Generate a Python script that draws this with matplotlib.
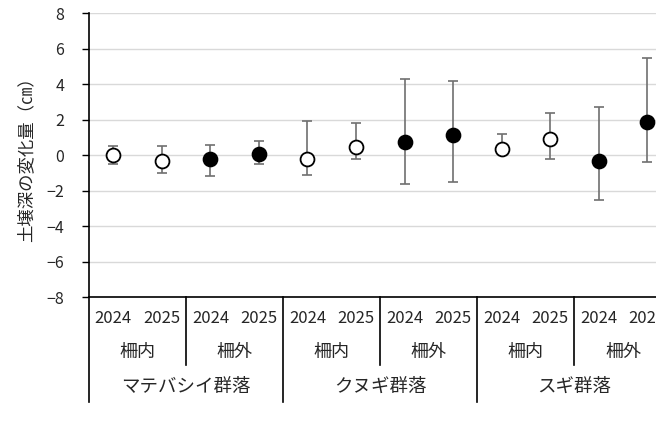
import matplotlib
matplotlib.use("Agg")
import matplotlib.pyplot as plt

plt.rcParams['font.family'] = ['Noto Sans CJK JP', 'DejaVu Sans']

# 土壌深の変化量（平均と範囲）
years = ['2024', '2025'] * 6
fences = ['柵内', '柵外'] * 3
stands = ['マテバシイ群落', 'クヌギ群落', 'スギ群落']
means = [0.0, -0.34, -0.23, 0.08, -0.23, 0.47, 0.77, 1.13, 0.36, 0.94, -0.30, 1.88]
upper = [0.5, 0.5, 0.6, 0.8, 1.9, 1.8, 4.3, 4.2, 1.2, 2.4, 2.7, 5.5]
lower = [-0.5, -1.0, -1.2, -0.5, -1.1, -0.2, -1.6, -1.5, 0.05, -0.2, -2.5, -0.4]
filled = [False, False, True, True] * 3

fig = plt.figure(figsize=(6.56, 4.24), dpi=100)
# 右端は図の外まで続く
ax = fig.add_axes([0.1357, 0.2995, 0.888, 0.669])

x = list(range(len(means)))
err = [[m - lo for m, lo in zip(means, lower)], [hi - m for m, hi in zip(means, upper)]]
ax.errorbar(x, means, yerr=err, fmt='none', ecolor='#707070', elinewidth=1.2,
            capsize=3.5, capthick=1.2, zorder=3)
for i in x:
    face = 'black' if filled[i] else 'white'
    ax.plot(i, means[i], 'o', ms=10, mfc=face, mec='black', mew=1.3, zorder=4)

ax.set_xlim(-0.5, 11.5)
ax.set_ylim(-8, 8)
ax.set_yticks(range(-8, 9, 2))
ax.yaxis.grid(True, color='#d9d9d9', lw=1.0)
ax.set_axisbelow(True)
ax.tick_params(axis='y', length=5, width=1.0, pad=13, labelsize=11.5, labelcolor='#262626')
ax.set_xticks([])
for s in ['top', 'right']:
    ax.spines[s].set_visible(False)
ax.spines['left'].set_linewidth(1.2)
ax.spines['bottom'].set_linewidth(1.2)
ax.set_ylabel('土壌深の変化量（㎝）', fontsize=12.5, labelpad=8, color='#262626')

# 階層付きの横軸ラベル
tr = ax.get_xaxis_transform()
for i, yr in enumerate(years):
    ax.text(i, -0.074, yr, transform=tr, ha='center', va='center', fontsize=12,
            color='#262626')
for j, f in enumerate(fences * 2):
    ax.text(2 * j + 0.5, -0.194, f, transform=tr, ha='center', va='center', fontsize=13,
            color='#262626')
for k, st in enumerate(stands):
    ax.text(4 * k + 1.5, -0.317, st, transform=tr, ha='center', va='center', fontsize=13.3,
            color='#262626')
for b in [1.5, 5.5, 9.5]:
    ax.plot([b, b], [0, -0.240], transform=tr, color='black', lw=1.2, clip_on=False)
for b in [-0.5, 3.5, 7.5, 11.5]:
    ax.plot([b, b], [0, -0.370], transform=tr, color='black', lw=1.2, clip_on=False)

fig.savefig('out.png', dpi=100)
